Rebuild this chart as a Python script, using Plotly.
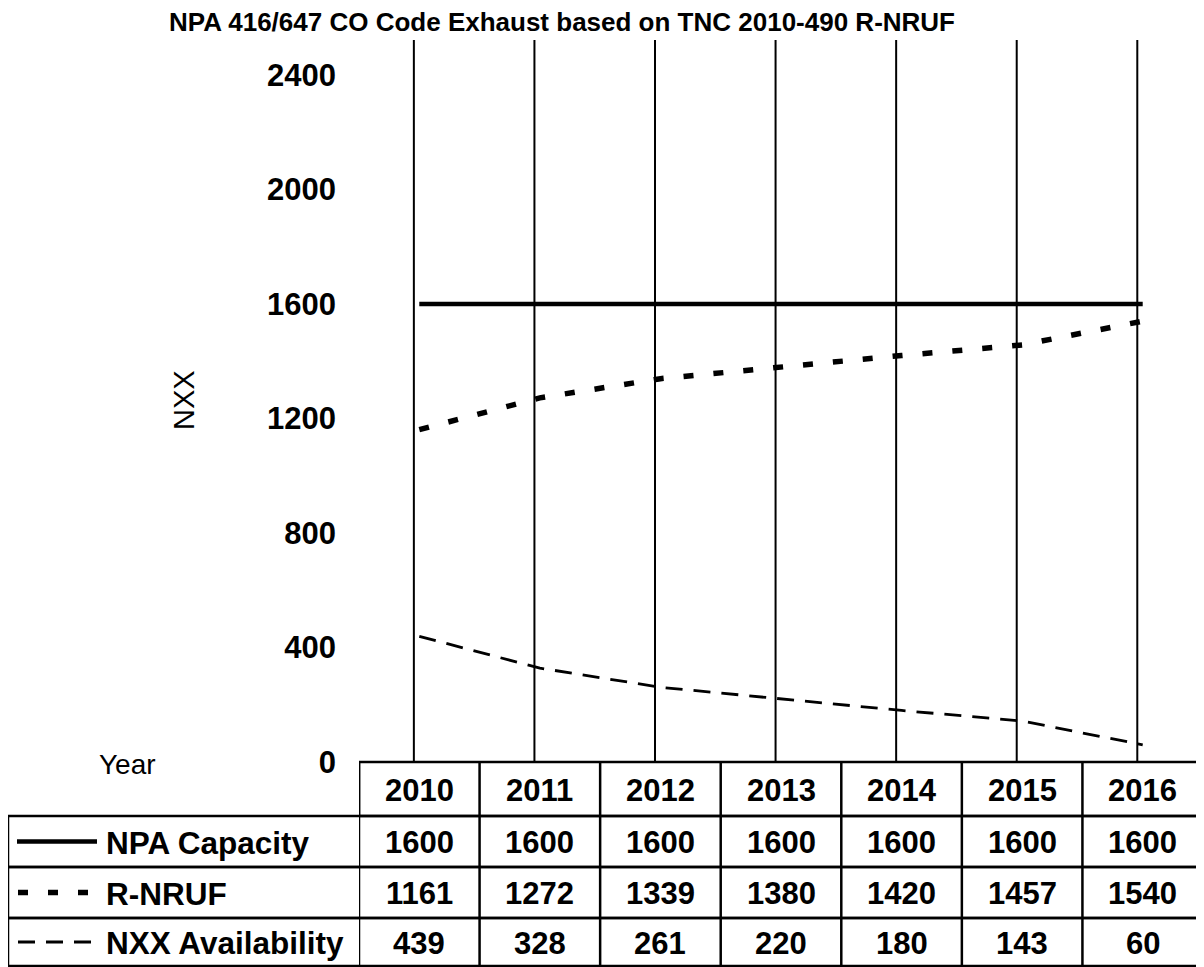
import plotly.graph_objects as go

years = ["2010", "2011", "2012", "2013", "2014", "2015", "2016"]
npa_capacity = [1600, 1600, 1600, 1600, 1600, 1600, 1600]
r_nruf = [1161, 1272, 1339, 1380, 1420, 1457, 1540]
nxx_avail = [439, 328, 261, 220, 180, 143, 60]
series_names = ["NPA Capacity", "R-NRUF", "NXX Availability"]
y_ticks = [0, 400, 800, 1200, 1600, 2000, 2400]
title_text = "NPA 416/647 CO Code Exhaust based on TNC 2010-490 R-NRUF"

# page body has an 8px margin; design in window pixels and shift
OFF = 8
W, H = 1204 - OFF, 967 - OFF
L, R, T, B = 359 - OFF, 1, 40 - OFF, 205
PH = H - T - B
PW = W - L - R
FONT = "Liberation Sans, Arial, sans-serif"

def px_x(px):  # window pixel -> paper x
    return (px - OFF - L) / PW

def px_y(py):  # window pixel -> paper y
    return (H - B - (py - OFF)) / PH

styles = [
    dict(width=4.5, dash="solid"),
    dict(width=5.5, dash="10px,20px"),
    dict(width=2.8, dash="17px,11px"),
]
series = [npa_capacity, r_nruf, nxx_avail]
xs = list(range(len(years)))

fig = go.Figure()
for name, vals, st in zip(series_names, series, styles):
    fig.add_trace(go.Scatter(x=xs, y=vals, mode="lines", name=name,
                             line=dict(color="black", width=st["width"], dash=st["dash"]),
                             showlegend=False))

shapes = []
for i, _ in enumerate(years):
    shapes.append(dict(type="line", xref="x", yref="paper", x0=i - 0.045, x1=i - 0.045,
                       y0=0, y1=1, line=dict(color="black", width=2), layer="below"))

row_edges = [762, 816, 867, 918, 966]
left_px = 8
lw = 2.5
shapes.append(dict(type="rect", xref="x", yref="paper", x0=-0.5, x1=6.5,
                   y0=px_y(row_edges[0]), y1=px_y(row_edges[1]), line=dict(color="black", width=lw)))
for r in range(1, 4):
    shapes.append(dict(type="rect", xref="paper", yref="paper", x0=px_x(left_px), x1=px_x(1203),
                       y0=px_y(row_edges[r]), y1=px_y(row_edges[r + 1]), line=dict(color="black", width=lw)))
for i in range(len(years) + 1):
    shapes.append(dict(type="line", xref="x", yref="paper", x0=i - 0.5, x1=i - 0.5,
                       y0=px_y(row_edges[0]), y1=px_y(row_edges[-1]), line=dict(color="black", width=lw)))

sample_y = [(row_edges[r] + row_edges[r + 1]) / 2 for r in range(1, 4)]
sample_ends = [(17, 97), (18, 94), (18, 92)]
for st, yy, (a, b) in zip(styles, sample_y, sample_ends):
    shapes.append(dict(type="line", xref="paper", yref="paper", x0=px_x(a), x1=px_x(b),
                       y0=px_y(yy), y1=px_y(yy),
                       line=dict(color="black", width=st["width"], dash=st["dash"])))

annotations = []
bold31 = dict(family=FONT, size=31, color="black", weight="bold")
hy = (row_edges[0] + row_edges[1]) / 2
for i, yr in enumerate(years):
    annotations.append(dict(text=yr, x=i, y=px_y(hy + 1), xref="x", yref="paper",
                            xanchor="center", yanchor="middle", showarrow=False, font=bold31))
for r, vals in enumerate(series):
    yy = sample_y[r]
    for i, v in enumerate(vals):
        annotations.append(dict(text=str(v), x=i, y=px_y(yy + 1), xref="x", yref="paper",
                                xanchor="center", yanchor="middle", showarrow=False, font=bold31))
    annotations.append(dict(text=series_names[r], x=px_x(104), y=px_y(yy + 1), xref="paper", yref="paper",
                            xanchor="left", yanchor="middle", showarrow=False,
                            font=dict(family=FONT, size=31.5, color="black", weight="bold")))

annotations.append(dict(text=title_text, x=px_x(562), y=px_y(22), xref="paper", yref="paper",
                        xanchor="center", yanchor="middle", showarrow=False,
                        font=dict(family=FONT, size=26, color="black", weight="bold")))
annotations.append(dict(text="NXX", x=px_x(184), y=px_y(400), xref="paper", yref="paper",
                        xanchor="center", yanchor="middle", showarrow=False, textangle=-90,
                        font=dict(family=FONT, size=29, color="black")))
annotations.append(dict(text="Year", x=px_x(127), y=px_y(764), xref="paper", yref="paper",
                        xanchor="center", yanchor="middle", showarrow=False,
                        font=dict(family=FONT, size=28, color="black")))

fig.update_layout(
    width=W, height=H,
    margin=dict(l=L, r=R, t=T, b=B, pad=0),
    paper_bgcolor="white", plot_bgcolor="white",
    xaxis=dict(range=[-0.5, 6.5], visible=False, fixedrange=True),
    yaxis=dict(range=[0, 2522], tickvals=y_ticks, ticktext=[str(v) for v in y_ticks],
               showgrid=False, zeroline=False, showline=False, ticks="",
               ticklabelstandoff=22,
               tickfont=dict(family=FONT, size=31, color="black", weight="bold"), fixedrange=True),
    shapes=shapes, annotations=annotations,
)

fig.write_html("out.html")
